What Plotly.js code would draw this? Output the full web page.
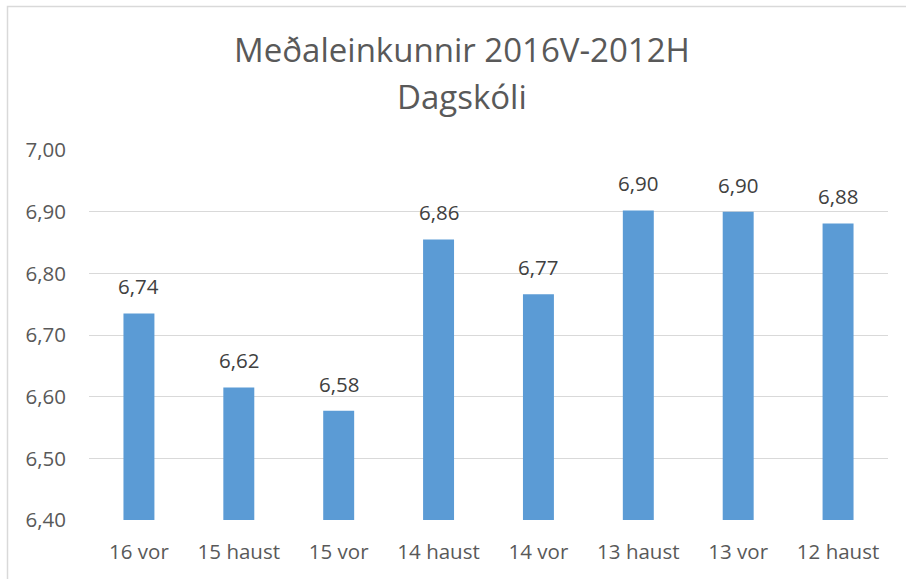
<!DOCTYPE html>
<html>
<head>
<meta charset="utf-8">
<script src="https://cdn.plot.ly/plotly-3.0.1.min.js"></script>
<style>html,body{margin:0;padding:0;background:#fff;}#chart{width:906px;height:579px;}</style>
</head>
<body>
<div id="chart"></div>
<script>
const categories = ["16 vor", "15 haust", "15 vor", "14 haust", "14 vor", "13 haust", "13 vor", "12 haust"];
const values = [6.735, 6.615, 6.577, 6.855, 6.766, 6.902, 6.900, 6.881];
const valueLabels = ["6,74", "6,62", "6,58", "6,86", "6,77", "6,90", "6,90", "6,88"];
const yTicks = [6.4, 6.5, 6.6, 6.7, 6.8, 6.9, 7.0];
const titleLine1 = "Meðaleinkunnir 2016V-2012H";
const titleLine2 = "Dagskóli";

const FONT = "'Open Sans', 'Noto Sans', sans-serif";

const trace = {
  type: "bar",
  x: categories,
  y: values,
  marker: {color: "#5B9BD5", line: {color: "#5B9BD5", width: 0}},
  width: 0.31,
  hoverinfo: "skip"
};

const annotations = categories.map((c, i) => ({
  x: c, y: values[i], xref: "x", yref: "y",
  text: valueLabels[i], showarrow: false,
  yanchor: "bottom", yshift: 11,
  font: {family: FONT, size: 20.5, color: "#404040"}
}));
annotations.push({
  xref: "paper", yref: "paper",
  x: (462 - 89) / 799, y: (520 - 97) / 370,
  xanchor: "center", yanchor: "middle",
  text: titleLine2, showarrow: false,
  font: {family: FONT, size: 33, color: "#595959"}
});

const layout = {
  width: 906, height: 579,
  margin: {l: 89, r: 18, t: 150, b: 59},
  paper_bgcolor: "#fff", plot_bgcolor: "#fff",
  separators: ",.",
  showlegend: false,
  title: {
    text: titleLine1,
    font: {family: FONT, size: 33, color: "#595959"},
    x: 462 / 906, xanchor: "center",
    y: 1 - 50 / 579, yanchor: "middle", xref: "container", yref: "container"
  },
  xaxis: {
    type: "category",
    showgrid: false, zeroline: false, showline: false,
    ticks: "outside", ticklen: 13, tickcolor: "rgba(0,0,0,0)",
    tickfont: {family: FONT, size: 20.5, color: "#595959"},
    fixedrange: true
  },
  yaxis: {
    range: [6.4, 7.0],
    tickvals: yTicks,
    tickformat: ".2f",
    showgrid: true, gridcolor: "#d9d9d9", gridwidth: 1,
    zeroline: false, showline: false,
    ticks: "outside", ticklen: 18, tickcolor: "rgba(0,0,0,0)",
    tickfont: {family: FONT, size: 20.5, color: "#595959"},
    fixedrange: true
  },
  annotations: annotations,
  shapes: [{
    type: "rect", xref: "paper", yref: "paper",
    x0: (7.5 - 89) / 799, x1: (930 - 89) / 799,
    y0: (520 - 600) / 370, y1: (520 - 6.5) / 370,
    line: {color: "#d9d9d9", width: 1.5}, fillcolor: "rgba(0,0,0,0)", layer: "below"
  }]
};

Plotly.newPlot("chart", [trace], layout, {displayModeBar: false, staticPlot: true});
</script>
</body>
</html>
